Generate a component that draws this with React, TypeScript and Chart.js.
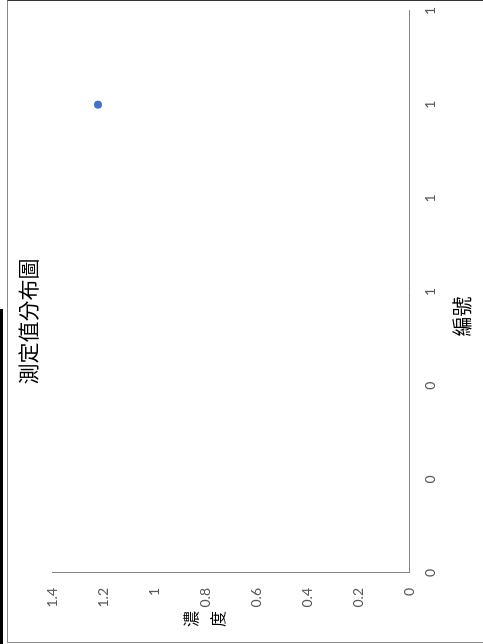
import React, { useEffect, useRef } from "react";
import { Chart, registerables } from "chart.js";

Chart.register(...registerables);

// ---- data ----
const chartTitle = "測定值分布圖";
const xAxisTitle = "編號";
const yAxisTitleChars = ["濃", "度"];
const serialNumbers = [1.0];
const concentrations = [1.22];
const xMin = 0;
const xMax = 1.2;
const xStep = 0.2;
const yMin = 0;
const yMax = 1.4;
const yStep = 0.2;

// original (unrotated) chart size
const W = 643;
const H = 480;

const CJK = '"Noto Sans CJK TC", "Noto Sans CJK SC", sans-serif';
const NUM = 'Lato, "Open Sans", sans-serif';

const textPlugin = {
  id: "excelTexts",
  afterDraw(chart: any) {
    const { ctx, chartArea } = chart;
    ctx.save();
    ctx.fillStyle = "#000000";
    ctx.textAlign = "center";
    ctx.textBaseline = "middle";
    // chart title
    ctx.font = `21px ${CJK}`;
    ctx.fillText(chartTitle, chart.width / 2, 21);
    // x axis title
    ctx.font = `20px ${CJK}`;
    ctx.fillText(xAxisTitle, chart.width / 2 + 5, chartArea.bottom + 53);
    // y axis title (stacked)
    ctx.font = `16px ${CJK}`;
    const cy = (chartArea.top + chartArea.bottom) / 2 - 26;
    const yx = chartArea.left - 46;
    yAxisTitleChars.forEach((c, i) => {
      ctx.fillText(c, yx, cy + (i - (yAxisTitleChars.length - 1) / 2) * 27);
    });
    ctx.restore();
  },
};

export default function App() {
  const ref = useRef<HTMLCanvasElement | null>(null);

  useEffect(() => {
    if (!ref.current) return;
    const chart = new Chart(ref.current, {
      type: "scatter",
      data: {
        datasets: [
          {
            data: serialNumbers.map((x, i) => ({ x, y: concentrations[i] })),
            backgroundColor: "#4472C4",
            borderColor: "#4472C4",
            pointRadius: 4,
            pointHoverRadius: 4,
            borderWidth: 0,
            showLine: false,
          },
        ],
      },
      options: {
        responsive: false,
        animation: false,
        events: [],
        layout: { padding: { top: 45, right: 11, bottom: 0, left: 0 } },
        plugins: {
          legend: { display: false },
          tooltip: { enabled: false },
          title: { display: false },
        },
        scales: {
          x: {
            type: "linear",
            min: xMin,
            max: xMax,
            grid: { display: false, drawTicks: false },
            border: { display: true, color: "#868686", width: 1 },
            ticks: {
              stepSize: xStep,
              padding: 13,
              color: "#595959",
              font: { family: NUM, size: 14 },
              maxRotation: 0,
              callback: (v: any) => String(Math.round(Number(v))),
            },
            afterFit: (scale: any) => {
              scale.height = 78;
              scale.paddingLeft = 0;
              scale.paddingRight = 0;
            },
          },
          y: {
            type: "linear",
            min: yMin,
            max: yMax,
            grid: { display: false, drawTicks: false },
            border: { display: true, color: "#868686", width: 1 },
            ticks: {
              stepSize: yStep,
              padding: 15,
              color: "#595959",
              font: { family: NUM, size: 14 },
              callback: (v: any) => String(Number(Number(v).toFixed(2))),
            },
            afterFit: (scale: any) => {
              scale.width = 70;
              scale.paddingTop = 0;
              scale.paddingBottom = 0;
            },
          },
        },
      },
      plugins: [textPlugin],
    });
    return () => chart.destroy();
  }, []);

  return (
    <div
      style={{
        position: "fixed",
        left: 0,
        top: 0,
        width: 483,
        height: 644,
        overflow: "hidden",
        background: "#ffffff",
      }}
    >
      <div
        style={{
          position: "absolute",
          left: 0,
          top: 309,
          width: 3,
          height: 335,
          background: "#000000",
        }}
      />
      <div
        style={{
          position: "absolute",
          left: 7,
          top: 0,
          width: W,
          height: H,
          transformOrigin: "0 0",
          transform: `translateY(${W}px) rotate(-90deg)`,
        }}
      >
        <canvas
          ref={ref}
          width={W}
          height={H}
          style={{ position: "absolute", left: 0, top: 0, display: "block" }}
        />
        <div
          style={{
            position: "absolute",
            left: 0,
            top: 0,
            width: W,
            height: H,
            boxSizing: "border-box",
            borderTop: "1px solid #8a8a8a",
            borderLeft: "1px solid #8a8a8a",
            borderRight: "1px solid #333333",
            pointerEvents: "none",
          }}
        />
      </div>
    </div>
  );
}
